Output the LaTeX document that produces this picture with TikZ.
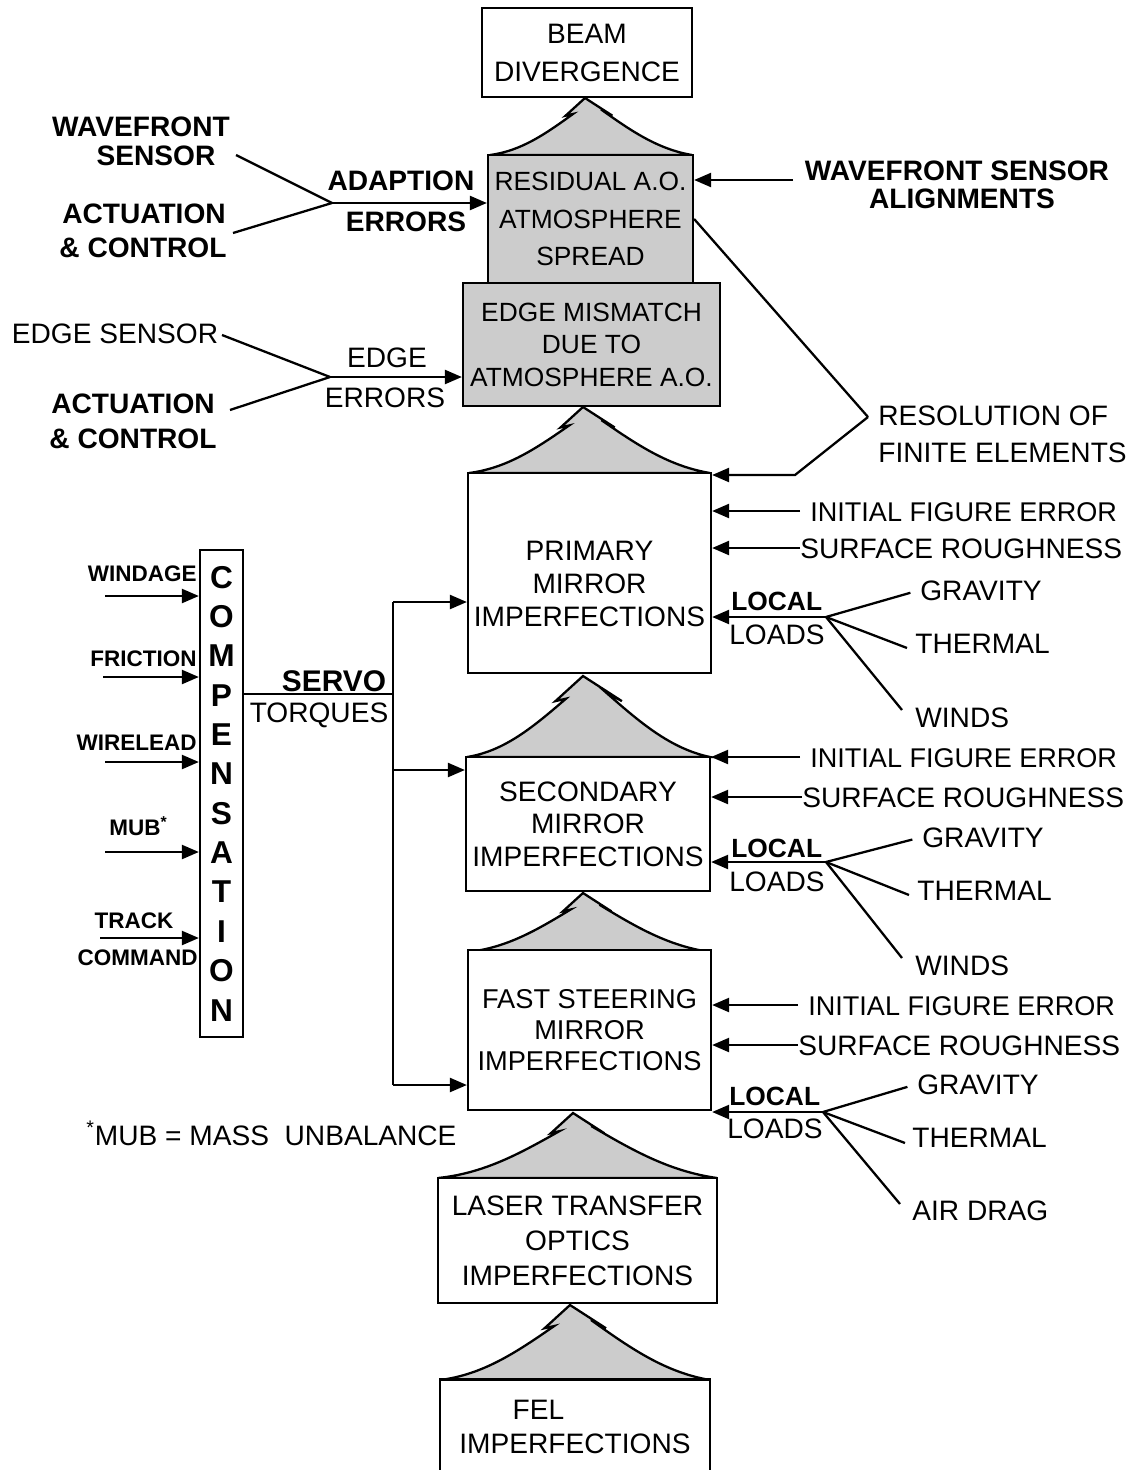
\documentclass[tikz,border=0pt]{standalone}
\usepackage{fontspec}
\setmainfont{Liberation Sans}
\usetikzlibrary{arrows.meta,calc}
\newcommand{\peakshape}[5]{% apex x, apex y, base y, left x, right x
\pgfmathsetmacro{\pkh}{#3-#2}%
\coordinate (pkA) at (#1,#2);
\coordinate (pkLn) at ({#1-0.34*\pkh},{#2+0.31*\pkh});
\coordinate (pkLi) at ({#1-0.21*\pkh},{#2+0.28*\pkh});
\coordinate (pkLb) at (#4,#3);
\coordinate (pkRb) at (#5,#3);
\coordinate (pkRi) at ({#1+0.28*\pkh},{#2+0.20*\pkh});
\coordinate (pkRt) at ({#1+0.48*\pkh},{#2+0.31*\pkh});
\filldraw[peakfill] (pkA) -- (pkLn) -- (pkLi)
 .. controls ($(pkLi)!0.33!(pkLb)+(0,0.11*\pkh)$) and ($(pkLi)!0.62!(pkLb)+(0,0.2*\pkh)$) .. (pkLb)
 -- (pkRb)
 .. controls ($(pkRi)!0.62!(pkRb)+(0,0.2*\pkh)$) and ($(pkRi)!0.33!(pkRb)+(0,0.11*\pkh)$) .. (pkRi)
 -- (pkRt) -- cycle;}
\begin{document}
\begin{tikzpicture}[x=0.02cm,y=-0.02cm,
  lw/.style={line width=1.3pt},
  arr/.style={lw,-{Triangle[length=3.4mm,width=2.8mm]}},
  lbl/.style={inner sep=0pt,font=\fontsize{16}{18}\selectfont,text height=11.5pt,text depth=0pt},
  blbl/.style={lbl,font=\bfseries\fontsize{16}{18}\selectfont},
  sml/.style={inner sep=0pt,font=\bfseries\fontsize{12.8}{14}\selectfont,text height=9.2pt,text depth=0pt},
  box/.style={draw,lw,fill=white,align=center,inner sep=0pt,font=\fontsize{16}{18.6}\selectfont},
  sbox/.style={box,fill=black!20,font=\fontsize{15}{20}\selectfont},
  peakfill/.style={draw,lw,fill=black!20,line join=miter}
]
\useasboundingbox (0,0) rectangle (1137,1470);

% peaks
\peakshape{585}{98}{155}{490}{692}
\peakshape{583}{407}{473}{469}{710}
\peakshape{583}{676}{757}{467}{710}
\peakshape{583}{893}{952}{468}{710}
\peakshape{573}{1113}{1178}{438}{717}
\peakshape{570}{1305}{1380}{440}{710}

% boxes
\node[box,minimum width=4.2cm,minimum height=1.78cm,font=\fontsize{16}{21.6}\selectfont] (beam) at (587,52.5) {BEAM\\DIVERGENCE};
\node[sbox,minimum width=4.1cm,minimum height=2.56cm,font=\fontsize{15}{21.4}\selectfont] (res) at (590.5,219) {RESIDUAL A.O.\\ATMOSPHERE\\SPREAD};
\node[sbox,minimum width=5.14cm,minimum height=2.46cm,font=\fontsize{15}{18.5}\selectfont] (edge) at (591.5,344.5) {EDGE MISMATCH\\DUE TO\\ATMOSPHERE A.O.};
\node[box,minimum width=4.86cm,minimum height=4cm] (prim) at (589.5,573) {};
\node[align=center,inner sep=0pt,font=\fontsize{16}{18.6}\selectfont] (primtxt) at (589.5,584) {PRIMARY\\MIRROR\\IMPERFECTIONS};
\node[box,minimum width=4.88cm,minimum height=2.68cm] (sec) at (588,824) {SECONDARY\\MIRROR\\IMPERFECTIONS};
\node[box,minimum width=4.86cm,minimum height=3.2cm,font=\fontsize{15.5}{17.5}\selectfont] (fsm) at (589.5,1030) {FAST STEERING\\MIRROR\\IMPERFECTIONS};
\node[box,minimum width=5.58cm,minimum height=2.5cm,font=\fontsize{16}{20}\selectfont] (laser) at (577.5,1240.5) {LASER TRANSFER\\OPTICS\\IMPERFECTIONS};
\node[box,minimum width=5.4cm,minimum height=1.9cm,font=\fontsize{16}{19.4}\selectfont] (fel) at (575,1427) {FEL\hspace*{2.6em}\\IMPERFECTIONS};

% top left inputs
\node[blbl] (wf1) at (141,126) {WAVEFRONT};
\node[blbl] (wf2) at (156,155) {SENSOR};
\node[blbl] (ac1) at (144,213) {ACTUATION};
\node[blbl] (ac2) at (143,247) {\&~CONTROL};
\node[blbl] (adap) at (401,180) {ADAPTION};
\node[blbl] (aerr) at (406,221) {ERRORS};
\coordinate (ja) at (332,203);
\coordinate (wfe) at (236,155);
\coordinate (ace) at (233,233);
\draw[lw] (wfe) -- (ja);
\draw[lw] (ace) -- (ja);
\draw[arr] (ja) -- (ja -| res.west);

\node[lbl] (es) at (115,333) {EDGE SENSOR};
\node[blbl] (ac3) at (133,403) {ACTUATION};
\node[blbl] (ac4) at (133,438) {\&~CONTROL};
\node[lbl] (edg) at (387,357) {EDGE};
\node[lbl] (eerr) at (385,397) {ERRORS};
\coordinate (je) at (330,377);
\coordinate (ese) at (222,335);
\coordinate (ace2) at (230,410);
\draw[lw] (ese) -- (je);
\draw[lw] (ace2) -- (je);
\draw[arr] (je) -- (je -| edge.west);

% top right
\node[blbl] (wsa1) at (957,170) {WAVEFRONT SENSOR};
\node[blbl] (wsa2) at (962,198) {ALIGNMENTS};
\coordinate (wse) at (793,180);
\draw[arr] (wse) -- (wse -| res.east);
\node[lbl,anchor=west] (rfe1) at (878,415) {RESOLUTION OF};
\node[lbl,anchor=west] (rfe2) at (878,452) {FINITE ELEMENTS};
\coordinate (rv) at (868,417);
\coordinate (rb) at (795,475);
\draw[lw] (res.east) -- (rv);
\draw[arr] (rv) -- (rb) -- (rb -| prim.east);

% primary right
\node[lbl,anchor=west,font=\fontsize{15.4}{18}\selectfont] (pife) at (810,511) {INITIAL FIGURE ERROR};
\node[lbl,anchor=west] (psr) at (800,548) {SURFACE ROUGHNESS};
\draw[arr,shorten <=2mm] (pife.west) -- (pife.west -| prim.east);
\draw[arr] (psr.west) -- (psr.west -| prim.east);
\node[lbl,anchor=west,font=\bfseries\fontsize{15}{17}\selectfont] (ploc) at (731,600) {LOCAL};
\node[lbl,anchor=west] (plod) at (729,634) {LOADS};
\coordinate (pj) at (826,617);
\draw[arr] (pj) -- (pj -| prim.east);
\node[lbl,anchor=west] (pgr) at (920,590) {GRAVITY};
\node[lbl,anchor=west] (pth) at (915,643) {THERMAL};
\node[lbl,anchor=west] (pwi) at (915,717) {WINDS};
\draw[lw,shorten >=2mm] (pj) -- (pgr.west);
\draw[lw] (pj) -- (907,648);
\draw[lw] (pj) -- (902,710);

% secondary right
\node[lbl,anchor=west,font=\fontsize{15.4}{18}\selectfont] (sife) at (810,757) {INITIAL FIGURE ERROR};
\node[lbl,anchor=west] (ssr) at (802,797) {SURFACE ROUGHNESS};
\draw[arr,shorten <=2mm] (sife.west) -- (sife.west -| sec.east);
\draw[arr] (ssr.west) -- (ssr.west -| sec.east);
\node[lbl,anchor=west,font=\bfseries\fontsize{15}{17}\selectfont] (sloc) at (731,847) {LOCAL};
\node[lbl,anchor=west] (slod) at (729,881) {LOADS};
\coordinate (sj) at (826,862);
\draw[arr] (sj) -- (sj -| sec.east);
\node[lbl,anchor=west] (sgr) at (922,837) {GRAVITY};
\node[lbl,anchor=west] (sth) at (917,890) {THERMAL};
\node[lbl,anchor=west] (swi) at (915,965) {WINDS};
\draw[lw,shorten >=2mm] (sj) -- (sgr.west);
\draw[lw] (sj) -- (909,895);
\draw[lw] (sj) -- (902,958);

% fsm right
\node[lbl,anchor=west,font=\fontsize{15.4}{18}\selectfont] (fife) at (808,1005) {INITIAL FIGURE ERROR};
\node[lbl,anchor=west] (fsr) at (798,1045) {SURFACE ROUGHNESS};
\draw[arr,shorten <=2mm] (fife.west) -- (fife.west -| fsm.east);
\draw[arr] (fsr.west) -- (fsr.west -| fsm.east);
\node[lbl,anchor=west,font=\bfseries\fontsize{15}{17}\selectfont] (floc) at (729,1095) {LOCAL};
\node[lbl,anchor=west] (flod) at (727,1128) {LOADS};
\coordinate (fj) at (823,1112);
\draw[arr] (fj) -- (fj -| fsm.east);
\node[lbl,anchor=west] (fgr) at (917,1084) {GRAVITY};
\node[lbl,anchor=west] (fth) at (912,1137) {THERMAL};
\node[lbl,anchor=west] (fad) at (912,1210) {AIR DRAG};
\draw[lw,shorten >=2mm] (fj) -- (fgr.west);
\draw[lw] (fj) -- (905,1143);
\draw[lw] (fj) -- (900,1204);

% compensation
\node[draw,lw,minimum width=0.86cm,minimum height=9.74cm,align=center,inner sep=0pt,
  font=\bfseries\fontsize{18}{22.4}\selectfont] (comp) at (221.5,793.5)
  {C\\O\\M\\P\\E\\N\\S\\A\\T\\I\\O\\N};
\node[sml,anchor=east] (wind) at (197,573) {WINDAGE};
\node[sml,anchor=east] (fric) at (197,658) {FRICTION};
\node[sml,anchor=east] (wire) at (197,742) {WIRELEAD};
\node[sml,anchor=east] (mub) at (168,827) {MUB\textsuperscript{*}};
\node[sml] (trk) at (134,920) {TRACK};
\node[sml,anchor=east] (cmd) at (198,957) {COMMAND};
\coordinate (i1) at (105,596);
\coordinate (i2) at (103,677);
\coordinate (i3) at (105,762);
\coordinate (i4) at (105,852);
\coordinate (i5) at (100,938);
\foreach \c in {i1,i2,i3,i4,i5} \draw[arr] (\c) -- (\c -| comp.west);

% servo torques
\coordinate (sv) at (393,694);
\coordinate (st) at (393,602);
\coordinate (sm) at (393,770);
\coordinate (sb) at (393,1085);
\draw[lw] (comp.east |- sv) -- (sv);
\draw[lw] (st) -- (sb);
\draw[arr] (st) -- (st -| prim.west);
\draw[arr] (sm) -- (sm -| sec.west);
\draw[arr] (sb) -- (sb -| fsm.west);
\node[lbl,font=\bfseries\fontsize{17}{19}\selectfont,text height=12.2pt] (servo) at (334,681) {SERVO};
\node[lbl] (torq) at (319,712) {TORQUES};

% footnote
\node[lbl,anchor=west] (foot) at (86,1135) {\textsuperscript{*}MUB = MASS\ \ UNBALANCE};
\end{tikzpicture}
\end{document}
